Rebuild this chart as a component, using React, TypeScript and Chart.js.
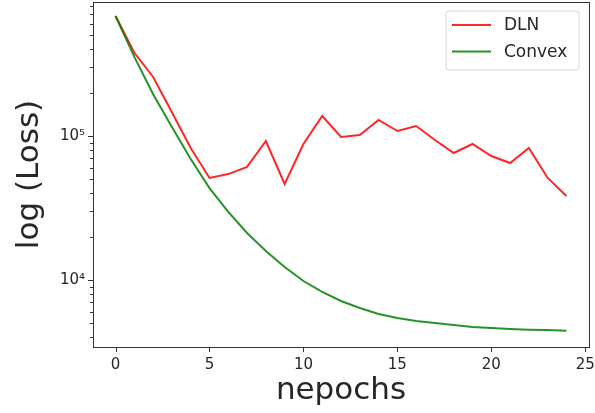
import React, { useEffect, useRef } from 'react';
import { Chart, registerables } from 'chart.js';

Chart.register(...registerables);

const epochs = [0, 1, 2, 3, 4, 5, 6, 7, 8, 9, 10, 11, 12, 13, 14, 15, 16, 17, 18, 19, 20, 21, 22, 23, 24];
const dlnLoss = [681000, 378000, 257000, 146000, 82600, 51100, 54400, 61000, 92300, 46400, 88000, 137700, 98400, 101600, 129200, 108300, 117300, 93800, 76200, 88000, 72600, 64900, 82600, 51100, 38300];
const convexLoss = [681000, 354000, 195000, 115500, 69200, 43500, 29700, 21200, 15900, 12300, 9840, 8260, 7150, 6390, 5810, 5450, 5190, 5020, 4870, 4720, 4650, 4570, 4520, 4490, 4450];
const seriesLabels = ['DLN', 'Convex'];
const seriesColors = ['rgba(255,0,0,0.85)', 'rgba(0,128,0,0.85)'];
const xTicks = [0, 5, 10, 15, 20, 25];
const yMajorTicks = [10000, 100000];
const yMajorLabels = ['10\u2074', '10\u2075'];
const yMinorTicks = [4000, 5000, 6000, 7000, 8000, 9000, 20000, 30000, 40000, 50000, 60000, 70000, 80000, 90000, 200000, 300000, 400000, 500000, 600000, 700000, 800000];
const xTitle = 'nepochs';
const yTitle = 'log (Loss)';

const FONT = "'DejaVu Sans', sans-serif";
const TEXT = '#262626';
const AXIS = '#333333';

const framePlugin = {
  id: 'frameAndLegend',
  afterDraw(chart: any) {
    const { ctx, chartArea } = chart;
    const { left, right, top, bottom } = chartArea;
    ctx.save();
    // ticks
    ctx.strokeStyle = AXIS;
    ctx.lineWidth = 1;
    const xs = chart.scales.x;
    const ys = chart.scales.y;
    ctx.beginPath();
    xTicks.forEach((v) => {
      const px = Math.round(xs.getPixelForValue(v)) + 0.5;
      ctx.moveTo(px, bottom);
      ctx.lineTo(px, bottom + 5);
    });
    yMajorTicks.forEach((v) => {
      const py = Math.round(ys.getPixelForValue(v)) + 0.5;
      ctx.moveTo(left, py);
      ctx.lineTo(left - 5, py);
    });
    yMinorTicks.forEach((v) => {
      const py = Math.round(ys.getPixelForValue(v)) + 0.5;
      ctx.moveTo(left, py);
      ctx.lineTo(left - 3, py);
    });
    ctx.stroke();
    // frame
    ctx.strokeStyle = AXIS;
    ctx.lineWidth = 1;
    ctx.strokeRect(Math.round(left) + 0.5, Math.round(top) + 0.5, Math.round(right - left), Math.round(bottom - top));

    // legend
    const bw = 133;
    const bh = 59;
    const bx = right - 10 - bw;
    const by = top + 9;
    const r = 3;
    ctx.beginPath();
    ctx.moveTo(bx + r, by);
    ctx.lineTo(bx + bw - r, by);
    ctx.arcTo(bx + bw, by, bx + bw, by + r, r);
    ctx.lineTo(bx + bw, by + bh - r);
    ctx.arcTo(bx + bw, by + bh, bx + bw - r, by + bh, r);
    ctx.lineTo(bx + r, by + bh);
    ctx.arcTo(bx, by + bh, bx, by + bh - r, r);
    ctx.lineTo(bx, by + r);
    ctx.arcTo(bx, by, bx + r, by, r);
    ctx.closePath();
    ctx.fillStyle = 'rgba(255,255,255,0.8)';
    ctx.fill();
    ctx.strokeStyle = '#d6d6d6';
    ctx.stroke();

    ctx.font = `17px ${FONT}`;
    ctx.textBaseline = 'middle';
    ctx.textAlign = 'left';
    chart.data.datasets.forEach((ds: any, i: number) => {
      const cy = by + 14 + i * 26.5;
      ctx.strokeStyle = ds.borderColor;
      ctx.lineWidth = 2;
      ctx.beginPath();
      ctx.moveTo(bx + 6, cy);
      ctx.lineTo(bx + 45, cy);
      ctx.stroke();
      ctx.fillStyle = TEXT;
      ctx.fillText(ds.label, bx + 58, cy + 1);
    });
    ctx.restore();
  },
};

export default function App() {
  const ref = useRef<HTMLCanvasElement | null>(null);

  useEffect(() => {
    if (!ref.current) return;
    const chart = new Chart(ref.current, {
      type: 'line',
      data: {
        datasets: [
          {
            label: seriesLabels[0],
            data: epochs.map((e, i) => ({ x: e, y: dlnLoss[i] })),
            borderColor: seriesColors[0],
            backgroundColor: seriesColors[0],
            borderWidth: 2,
            pointRadius: 0,
            tension: 0,
            order: 1,
          },
          {
            label: seriesLabels[1],
            data: epochs.map((e, i) => ({ x: e, y: convexLoss[i] })),
            borderColor: seriesColors[1],
            backgroundColor: seriesColors[1],
            borderWidth: 2,
            pointRadius: 0,
            tension: 0,
            order: 0,
          },
        ],
      },
      options: {
        responsive: false,
        animation: false,
        events: [],
        layout: { padding: { top: 2, right: 6, left: 0, bottom: 0 } },
        plugins: {
          legend: { display: false },
          tooltip: { enabled: false },
        },
        scales: {
          x: {
            type: 'linear',
            min: -1.2,
            max: 25.2,
            afterBuildTicks: (scale: any) => {
              scale.ticks = xTicks.map((v) => ({ value: v }));
            },
            afterFit: (scale: any) => {
              scale.height = 66;
              scale.paddingLeft = 0;
              scale.paddingRight = 0;
            },
            grid: { display: false, drawTicks: false },
            border: { display: false },
            ticks: {
              padding: 9,
              maxRotation: 0,
              autoSkip: false,
              color: TEXT,
              font: { family: FONT, size: 15 },
              callback: (v: any) => String(v),
            },
            title: {
              display: true,
              text: xTitle,
              color: TEXT,
              font: { family: FONT, size: 31 },
              padding: { top: 0, bottom: 3 },
            },
          },
          y: {
            type: 'logarithmic',
            min: 3425,
            max: 852000,
            afterBuildTicks: (scale: any) => {
              scale.ticks = yMajorTicks.map((v) => ({ value: v, major: true }));
            },
            afterFit: (scale: any) => {
              scale.width = 93;
              scale.paddingTop = 0;
              scale.paddingBottom = 0;
            },
            grid: { display: false, drawTicks: false },
            border: { display: false },
            ticks: {
              padding: 8,
              autoSkip: false,
              color: TEXT,
              font: { family: FONT, size: 15 },
              callback: (v: any) => {
                const idx = yMajorTicks.indexOf(Number(v));
                return idx >= 0 ? yMajorLabels[idx] : '';
              },
            },
            title: {
              display: true,
              text: yTitle,
              color: TEXT,
              font: { family: FONT, size: 31 },
              padding: { top: 11, bottom: 0 },
            },
          },
        },
      },
      plugins: [framePlugin],
    } as any);
    return () => chart.destroy();
  }, []);

  return (
    <div style={{ position: 'fixed', left: 0, top: 0, width: 595, height: 413, background: '#fff' }}>
      <canvas ref={ref} width={595} height={413} style={{ display: 'block' }} />
    </div>
  );
}
